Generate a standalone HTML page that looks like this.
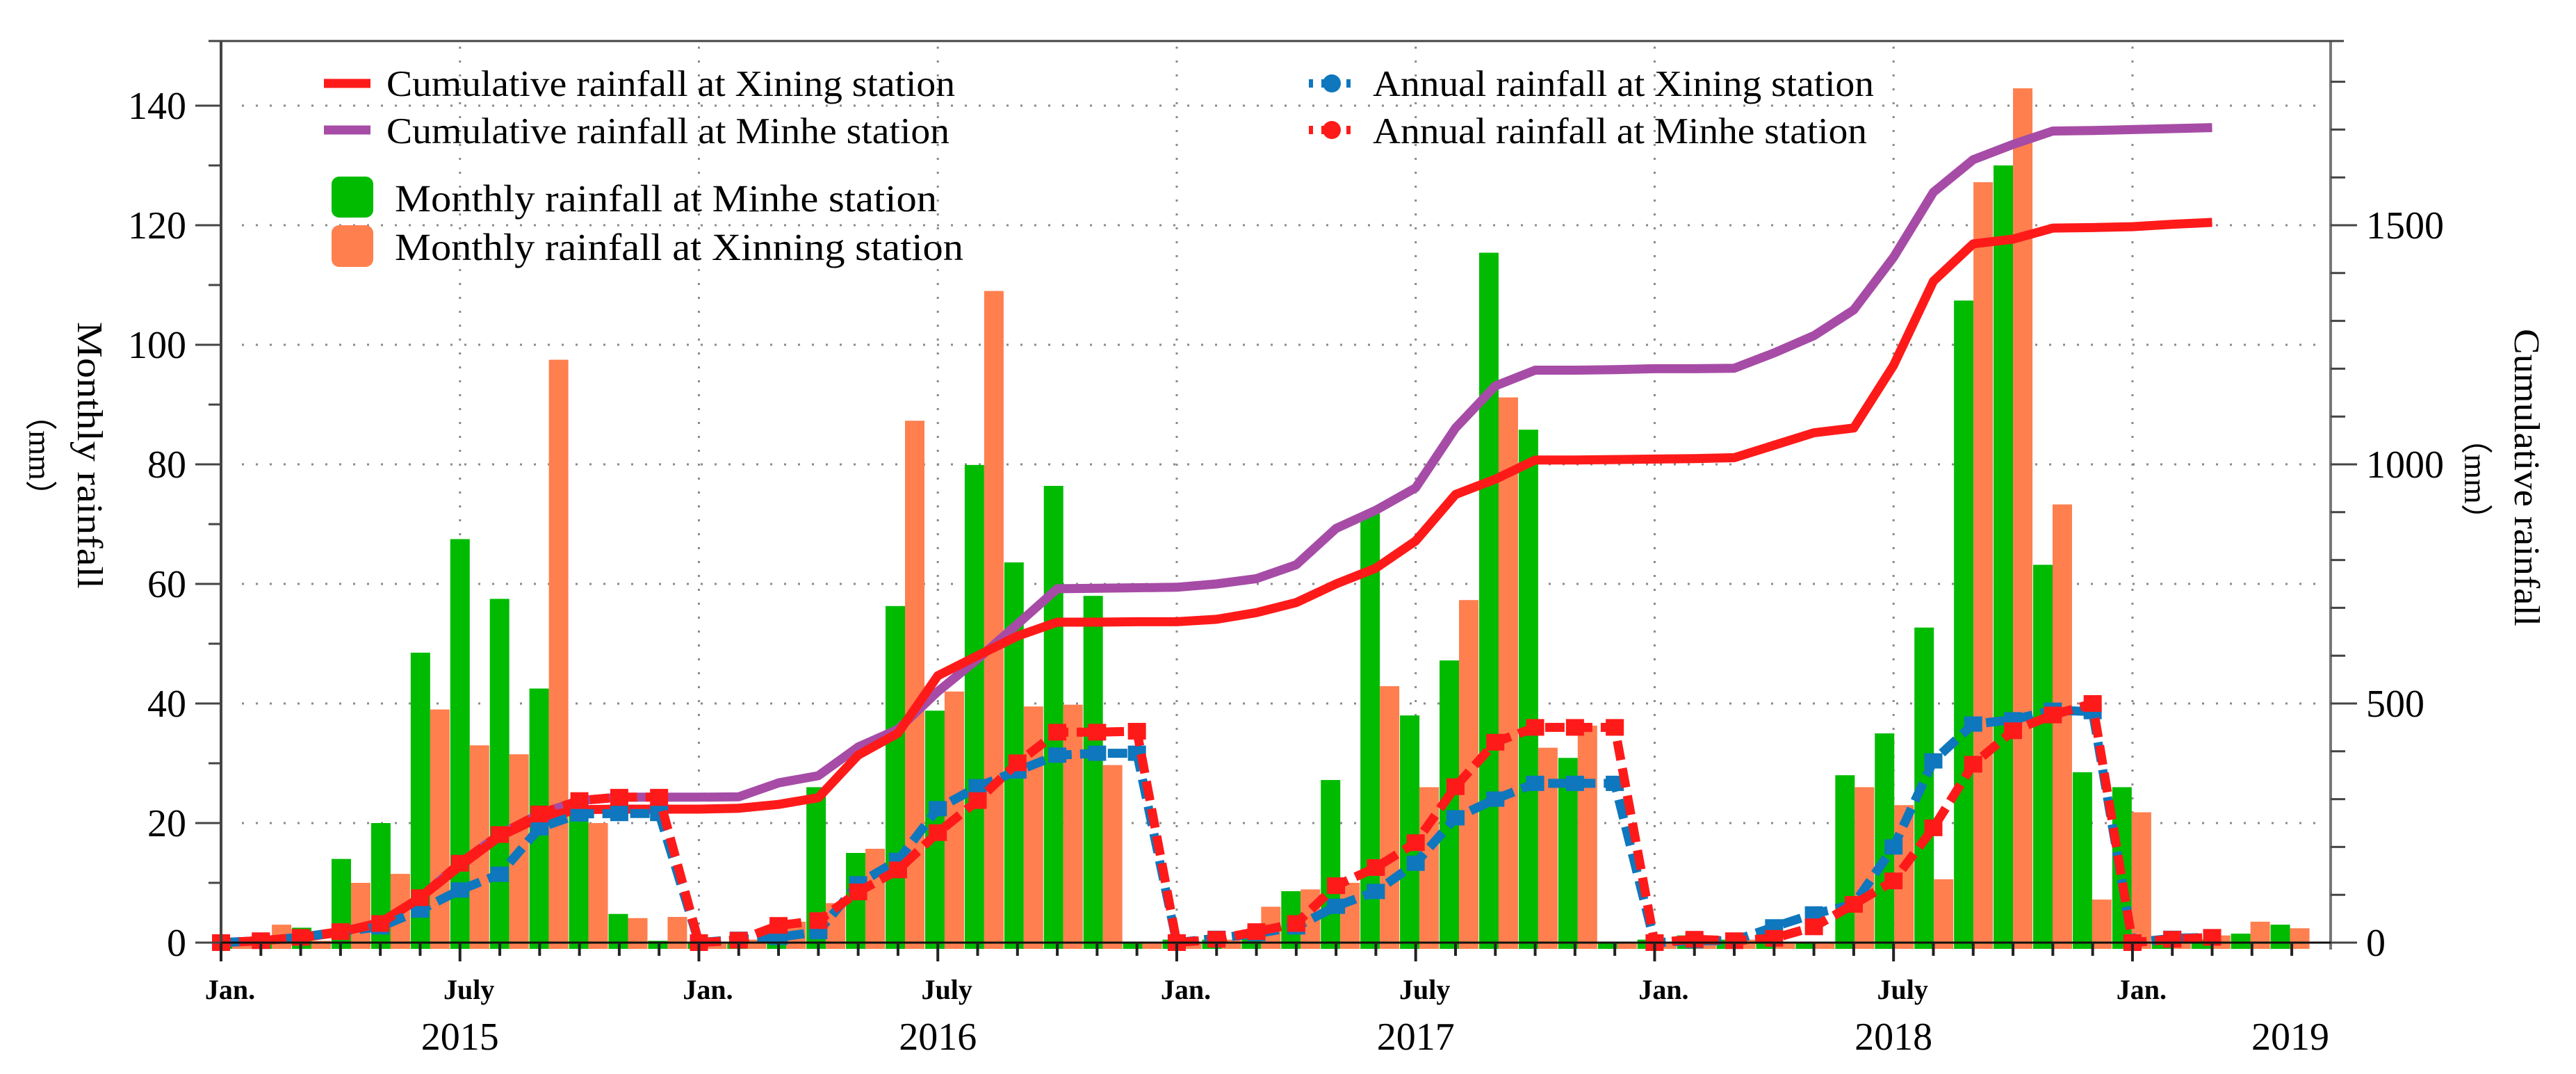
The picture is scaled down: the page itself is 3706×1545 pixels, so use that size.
<!DOCTYPE html>
<html><head><meta charset="utf-8"><style>
html,body{margin:0;padding:0;background:#fff;}
svg{display:block;font-family:"Liberation Serif","Times New Roman",serif;}
</style></head><body>
<svg id="chart" xmlns="http://www.w3.org/2000/svg" width="3706" height="1545" viewBox="0 0 3706 1545">
<rect x="0" y="0" width="3706" height="1545" fill="#fff"/>
<g id="grid"></g>
<g id="bars"></g>
<g id="lines"></g>
<g id="axes"></g>
<g id="legend">
  <line x1="466" y1="120" x2="533" y2="120" stroke="#ff1a1a" stroke-width="13"/>
  <text x="556" y="138" font-size="53" textLength="818" lengthAdjust="spacingAndGlyphs">Cumulative rainfall at Xining station</text>
  <line x1="466" y1="187" x2="533" y2="187" stroke="#a64ca6" stroke-width="13"/>
  <text x="556" y="206" font-size="53" textLength="810" lengthAdjust="spacingAndGlyphs">Cumulative rainfall at Minhe station</text>
  <rect x="477" y="254" width="60" height="59" rx="11" fill="#00bb00"/>
  <text x="568" y="304" font-size="55" textLength="780" lengthAdjust="spacingAndGlyphs">Monthly rainfall at Minhe station</text>
  <rect x="477" y="324" width="60" height="60" rx="11" fill="#ff7f4f"/>
  <text x="568" y="374" font-size="55" textLength="818" lengthAdjust="spacingAndGlyphs">Monthly rainfall at Xinning station</text>
  <line x1="1883" y1="120" x2="1950" y2="120" stroke="#0e77bd" stroke-width="12" stroke-dasharray="6 12"/>
  <circle cx="1916" cy="120" r="13" fill="#0e77bd"/>
  <text x="1975" y="138" font-size="53" textLength="721" lengthAdjust="spacingAndGlyphs">Annual rainfall at Xining station</text>
  <line x1="1883" y1="187" x2="1950" y2="187" stroke="#ff1a1a" stroke-width="12" stroke-dasharray="6 12"/>
  <circle cx="1916" cy="187" r="13" fill="#ff1a1a"/>
  <text x="1975" y="206" font-size="53" textLength="711" lengthAdjust="spacingAndGlyphs">Annual rainfall at Minhe station</text>
</g>
<text transform="translate(112,655) rotate(90)" text-anchor="middle" font-size="52" textLength="384" lengthAdjust="spacingAndGlyphs">Monthly rainfall</text>
<text transform="translate(42,655) rotate(90)" text-anchor="middle" font-size="46">（mm）</text>
<text transform="translate(3618,687) rotate(90)" text-anchor="middle" font-size="52" textLength="428" lengthAdjust="spacingAndGlyphs">Cumulative rainfall</text>
<text transform="translate(3546,689) rotate(90)" text-anchor="middle" font-size="46">（mm）</text>
</svg>
<script>
// ---- data (month index 0 = Jan 2015) ----
const monthlyMinhe = [0,0.5,2.5,14,20,48.5,67.5,57.5,42.5,23,4.8,0.3,
  0,0,0.5,26,15,56.3,38.8,79.9,63.6,76.4,58,0,
  0.5,0.5,1,8.6,27.2,71.8,38,47.2,115.4,85.8,30.9,0,
  0.5,1.2,0.5,1.5,0,28,35,52.7,107.4,130,63.2,28.5,
  26,0,0.5,1.5,3];
const monthlyXining = [0,3,0.3,10,11.5,39,33,31.5,97.5,20,4.1,4.3,
  0,0.5,3.5,6.6,15.7,87.3,42,109,39.5,39.8,29.7,0,
  0,0.5,6,8.9,10,42.9,26,57.3,91.2,32.6,36.3,0,
  0,0.5,0.5,0,0,26,23,10.6,127.2,142.9,73.3,7.2,
  21.8,1.5,1.2,3.5,2.4];
const cumXining = [0,4,10,22,42,94,160,222,262,278,279,279,
  279,281,289,303,392,438,558,600,641,670,670,671,
  671,676,690,711,750,783,840,937,969,1009,1009,1010,
  1011,1012,1014,1040,1066,1076,1207,1383,1461,1471,1494,1495,
  1497,1502,1506];
const cumMinhe = [0,4,11,23,40,94,166,226,269,297,304,304,
  304,305,334,349,409,446,525,593,666,740,741,742,
  743,750,761,790,866,904,951,1076,1164,1197,1197,1198,
  1200,1200,1201,1233,1269,1323,1433,1569,1637,1669,1697,1698,
  1700,1702,1704];
const annualXining = [0,4,11,23,33,68,110,143,240,269,270,270,
  0,7,11,23,123,172,280,326,359,392,396,396,
  0,9,19,33,76,107,166,261,300,333,333,333,
  0,4,4,33,60,80,200,380,457,466,486,483,
  0,9,11];
const annualMinhe = [0,4,11,23,40,94,166,226,269,297,304,304,
  0,5,36,46,106,152,230,297,376,440,440,442,
  0,7,23,40,119,157,209,326,419,450,450,450,
  0,7,4,9,33,80,129,240,373,443,476,500,
  0,7,11];
const leftTicks = [0,20,40,60,80,100,120,140];
const rightTicks = [0,500,1000,1500];
const monthLabels = ["Jan.","July"];
const yearLabels = ["2015","2016","2017","2018","2019"];

// ---- scales ----
const X0=318, MSTEP=57.29, XR=3353, YTOP=59, Y0=1356, PXMM=8.6, PXCUM=0.688;
const xT = i => X0 + MSTEP*i;
const xB = i => 334.2 + 56.93*i;
const yL = v => Y0 - v*PXMM;
const yR = v => Y0 - v*PXCUM;
const NS="http://www.w3.org/2000/svg";
function mk(tag, attrs, parent, txt){
  const e=document.createElementNS(NS,tag);
  for(const k in attrs) e.setAttribute(k,attrs[k]);
  if(txt!==undefined) e.textContent=txt;
  parent.appendChild(e); return e;
}
const grid=document.getElementById('grid'), bars=document.getElementById('bars'),
      lines=document.getElementById('lines'), axes=document.getElementById('axes');

// grid
leftTicks.forEach(v=>{ if(v===0) return;
  const g=mk('line',{x1:X0+30,x2:XR-5,y1:yL(v),y2:yL(v),stroke:'#8a8a8a','stroke-width':3,'stroke-dasharray':'3 17'},grid);
  
  
});
for(let i=6;i<=48;i+=6){
  const g=mk('line',{x1:xT(i),x2:xT(i),y1:YTOP+8,y2:Y0,stroke:'#8a8a8a','stroke-width':3,'stroke-dasharray':'3 17'},grid);
  
  
}

// bars
monthlyMinhe.forEach((v,i)=>{
  const b=mk('rect',{x:xB(i)-28,y:Math.min(yL(v),Y0),width:28,height:Math.max(Y0+9-yL(v),1),fill:'#00bb00'},bars);
  
  
});
monthlyXining.forEach((v,i)=>{
  const b=mk('rect',{x:xB(i),y:Math.min(yL(v),Y0),width:28,height:Math.max(Y0+9-yL(v),1),fill:'#ff7f4f'},bars);
  
  
});

// lines
function pts(arr){return arr.map((v,i)=>xT(i).toFixed(1)+','+yR(v).toFixed(1)).join(' ');}
const lp=mk('polyline',{points:pts(cumMinhe),fill:'none',stroke:'#a64ca6','stroke-width':13,'stroke-linejoin':'round'},lines);


const lr=mk('polyline',{points:pts(cumXining),fill:'none',stroke:'#ff1a1a','stroke-width':13,'stroke-linejoin':'round'},lines);


const lb=mk('polyline',{points:pts(annualXining),fill:'none',stroke:'#0e77bd','stroke-width':13,'stroke-dasharray':'28 12'},lines);


annualXining.forEach((v,i)=>{
  const m=mk('rect',{x:xT(i)-13,y:yR(v)-11,width:26,height:22,fill:'#0e77bd'},lines);
  
  
});
const lm=mk('polyline',{points:pts(annualMinhe),fill:'none',stroke:'#ff1a1a','stroke-width':13,'stroke-dasharray':'28 12','stroke-dashoffset':'14'},lines);


annualMinhe.forEach((v,i)=>{
  const m=mk('rect',{x:xT(i)-13,y:yR(v)-12,width:26,height:24,fill:'#ff1a1a'},lines);
  
  
});

// axes
const ax=[
 ['left-axis-line',{x1:X0,y1:YTOP,x2:X0,y2:Y0+27,stroke:'#444','stroke-width':4}],
 ['right-axis-line',{x1:XR,y1:YTOP,x2:XR,y2:Y0+10,stroke:'#777','stroke-width':4}],
 ['top-border',{x1:300,y1:YTOP,x2:3372,y2:YTOP,stroke:'#444','stroke-width':3}],
 ['x-axis-line',{x1:281,y1:Y0,x2:3391,y2:Y0,stroke:'#111','stroke-width':3}]
];
ax.forEach(a=>{const e=mk('line',a[1],axes);
  
  });
leftTicks.forEach(v=>{
  const t=mk('line',{x1:281,x2:X0,y1:yL(v),y2:yL(v),stroke:'#444','stroke-width':3},axes);
  
  
  const l=mk('text',{x:268,y:yL(v)+19,'text-anchor':'end','font-size':56},axes,String(v));
  
  
  if(v<140){const m=mk('line',{x1:300,x2:X0,y1:yL(v+10),y2:yL(v+10),stroke:'#444','stroke-width':3},axes);
    
    }
});
for(let c=100;c<=1800;c+=100){
  const major=(c%500===0);
  const t=mk('line',{x1:XR,x2:XR+(major?38:21),y1:yR(c),y2:yR(c),stroke:'#444','stroke-width':3},axes);
  
  
}
const rt0=mk('line',{x1:XR,x2:XR+38,y1:yR(0),y2:yR(0),stroke:'#444','stroke-width':3},axes);


rightTicks.forEach(v=>{
  const l=mk('text',{x:3404,y:yR(v)+19,'font-size':56},axes,String(v));
  
  
});
for(let i=0;i<=52;i++){
  const major=(i%6===0);
  const t=mk('line',{x1:xT(i),x2:xT(i),y1:Y0,y2:Y0+(major?27:19),stroke:'#222','stroke-width':4},axes);
  
  
  if(major){
    const l=mk('text',{x:xT(i)+13,y:1437,'text-anchor':'middle','font-size':40,'font-weight':'bold'},axes,monthLabels[(i/6)%2]);
    
    
  }
}
yearLabels.forEach((y,k)=>{
  const x = k<4 ? xT(6+12*k) : 3295;
  const l=mk('text',{x:x,y:1510,'text-anchor':'middle','font-size':56},axes,y);
  
  
});
</script>
</body></html>
